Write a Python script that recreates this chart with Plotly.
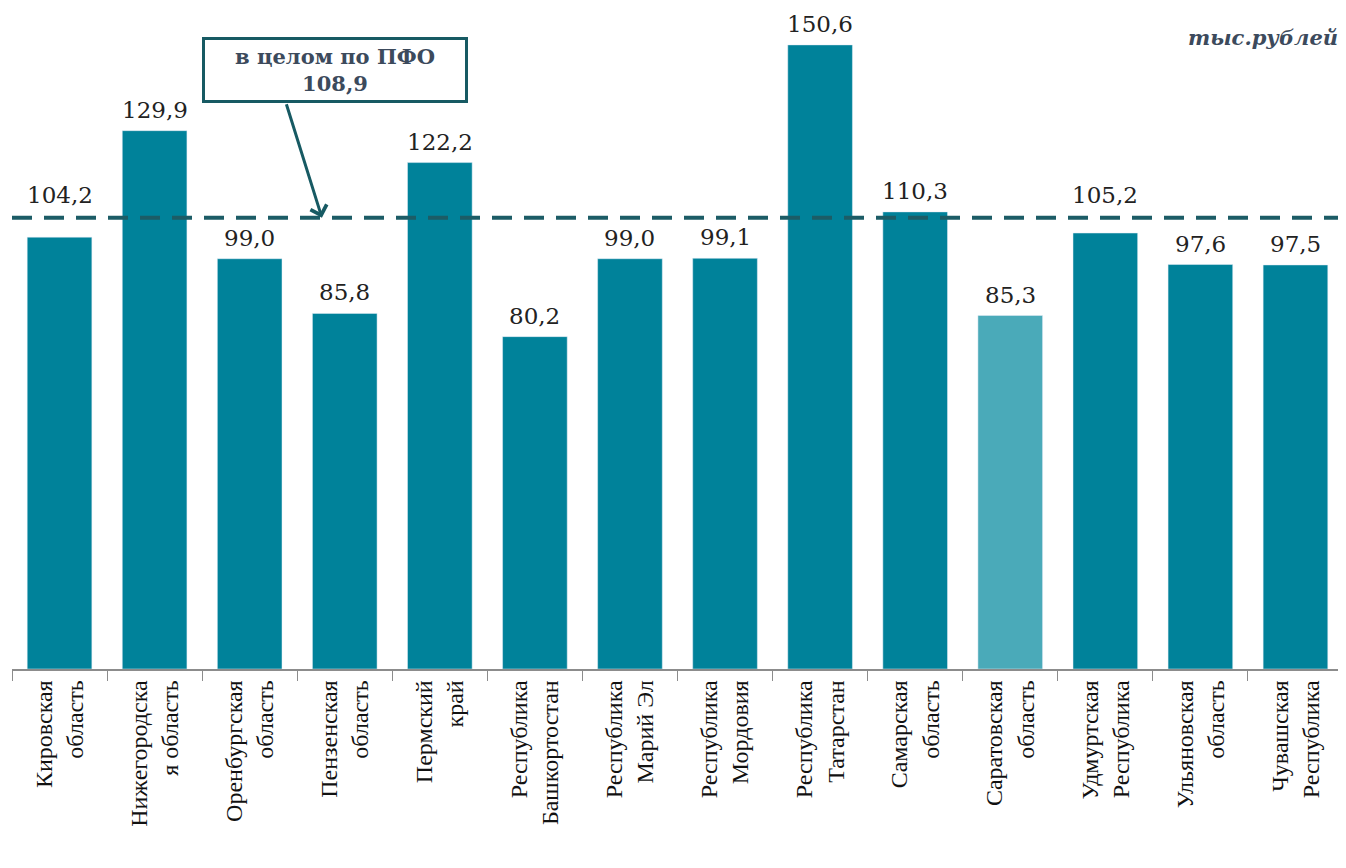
import plotly.graph_objects as go

regions = [
    'Кировская<br>область', 'Нижегородска<br>я область', 'Оренбургская<br>область',
    'Пензенская<br>область', 'Пермский<br>край', 'Республика<br>Башкортостан',
    'Республика<br>Марий Эл', 'Республика<br>Мордовия', 'Республика<br>Татарстан',
    'Самарская<br>область', 'Саратовская<br>область', 'Удмуртская<br>Республика',
    'Ульяновская<br>область', 'Чувашская<br>Республика'
]
values = [104.2, 129.9, 99.0, 85.8, 122.2, 80.2, 99.0, 99.1, 150.6, 110.3, 85.3, 105.2, 97.6, 97.5]
pfo_total = 108.9
highlight = 'Саратовская<br>область'

SERIF = 'Liberation Serif, Times New Roman, Tinos, DejaVu Serif, serif'


def fmt(v):
    return f'{v:.1f}'.replace('.', ',')


bar_colors = ['#4aaab9' if r == highlight else '#00829a' for r in regions]

fig = go.Figure()
fig.add_trace(go.Bar(x=regions, y=values, marker_color=bar_colors, hoverinfo='x+y'))

# value labels above the bars (lifted over the dashed line where they would clash)
for r, v in zip(regions, values):
    if pfo_total - 6 < v < pfo_total:
        y, shift = pfo_total, 8
    else:
        y, shift = v, 6
    fig.add_annotation(x=r, y=y, text=fmt(v), showarrow=False, yanchor='bottom', yshift=shift,
                       font=dict(family='DejaVu Serif', size=23, color='#222222'))

# average line for the whole district
fig.add_shape(type='line', xref='paper', x0=0, x1=1, y0=pfo_total, y1=pfo_total,
              line=dict(color='#1c5c66', width=4, dash='20px,12px'))

# callout box + arrow
fig.add_annotation(x=2.9, y=144.5, text='<b>в целом по ПФО<br>' + fmt(pfo_total) + '</b>',
                   showarrow=False, font=dict(family='DejaVu Serif', size=21, color='#3c4a5c'),
                   bordercolor='#175a63', borderwidth=3, borderpad=4, bgcolor='white',
                   width=252)
fig.add_annotation(x=2.76, y=pfo_total, text='', showarrow=True,
                   ax=-36, ay=-115, arrowhead=4, arrowsize=1.1, arrowwidth=3,
                   arrowcolor='#175a63')

fig.add_annotation(xref='paper', yref='paper', x=0.998, y=0.978, xanchor='right',
                   text='<b><i>тыс.рублей</i></b>', showarrow=False,
                   font=dict(family='DejaVu Serif', size=21, color='#3c4a5c'))

fig.update_layout(
    width=1338, height=860,
    margin=dict(l=4, r=3, t=0, b=199),
    paper_bgcolor='white', plot_bgcolor='white',
    bargap=0.32,
    showlegend=False,
)
fig.update_xaxes(tickangle=-90, tickson='boundaries', ticks='outside', ticklen=10,
                 tickcolor='#8c8c8c', showline=True, linecolor='#8c8c8c', linewidth=1.5,
                 tickfont=dict(family=SERIF, size=24, color='#111111'))
fig.update_yaxes(range=[0, 159.5], visible=False, showgrid=False)

fig.write_html('out.html')
